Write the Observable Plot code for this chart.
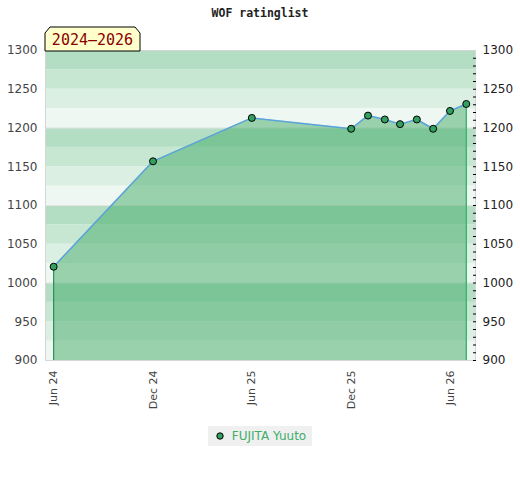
<!DOCTYPE html>
<html>
<head>
<meta charset="utf-8">
<script src="https://cdn.jsdelivr.net/npm/d3@7"></script>
<script src="https://cdn.jsdelivr.net/npm/@observablehq/plot@0.6"></script>
<style>
  body { margin: 0; background: #fff; font-family: "DejaVu Sans", sans-serif; }
  #wrap { position: relative; width: 520px; }
  #title { position: absolute; left: 0; top: 6px; width: 520px; text-align: center;
    font-family: "DejaVu Sans Mono", monospace; font-weight: bold; font-size: 11.5px; color: #222; }
  #badge { position: absolute; left: 44px; top: 26px; }
  #legend { display: flex; justify-content: center; margin-top: 16px; }
  #legend .box { background: #f0f0f0; padding: 3px 6px 3px 8px; display: flex; align-items: center;
    font-size: 12px; color: #3cae6a; height: 14px; }
  #legend svg { margin-right: 8px; }
</style>
</head>
<body>
<div id="wrap">
  <div id="chart"></div>
  <div id="title">WOF ratinglist</div>
  <svg id="badge" width="98" height="26">
    <polygon points="1,7 6,1 91,1 96,7 96,25 1,25" fill="#ffffcc" stroke="#000" stroke-width="1"/>
    <text x="48.5" y="19" text-anchor="middle" font-family="DejaVu Sans Mono, monospace" font-size="15" fill="#8b0000">2024–2026</text>
  </svg>
  <div id="legend"><div class="box"><svg width="8" height="8"><circle cx="4" cy="4" r="3.2" fill="#33a060" stroke="#000" stroke-width="1"/></svg>FUJITA Yuuto</div></div>
</div>
<script>
const playerName = "FUJITA Yuuto";
const dates = ["2024-06-01","2024-12-01","2025-06-01","2025-12-01","2026-01-01","2026-02-01","2026-03-01","2026-04-01","2026-05-01","2026-06-01","2026-07-01"];
const ratings = [1021, 1157, 1213, 1199, 1216, 1211, 1205, 1211, 1199, 1222, 1231];
const xTickDates = ["2024-06-01","2024-12-01","2025-06-01","2025-12-01","2026-06-01"];
const yTicks = [900, 950, 1000, 1050, 1100, 1150, 1200, 1250, 1300];
const yMinorTicks = d3.range(900, 1300, 10);
const bandEdges = d3.range(900, 1300, 25);
const bandColors = ["#eef7f1", "#dcefe3", "#c8e7d3", "#b3dec3"]; // low to high within each 100
const gridLines = [1000, 1100, 1200];

const data = dates.map((d, i) => ({date: new Date(d), rating: ratings[i]}));
const bands = bandEdges.map(b => ({y1: b, y2: b + 25, c: bandColors[(((b % 100) + 100) % 100) / 25]}));

const xDomain = [new Date("2024-05-17"), new Date("2026-07-18")];
const first = data[0], last = data[data.length - 1];

const plot = Plot.plot({
  width: 520,
  height: 410,
  marginTop: 50,
  marginBottom: 50,
  marginLeft: 45,
  marginRight: 45,
  style: {fontFamily: "DejaVu Sans, sans-serif", fontSize: "11px", color: "#444", background: "transparent"},
  x: {type: "utc", domain: xDomain},
  y: {domain: [900, 1300]},
  marks: [
    Plot.rect(bands, {x1: xDomain[0], x2: xDomain[1], y1: "y1", y2: "y2", fill: "c"}),
    Plot.ruleY(gridLines, {stroke: "#e4e4e4", strokeWidth: 1}),
    Plot.areaY(data, {x: "date", y1: 900, y2: "rating", fill: "#43ac6a", fillOpacity: 0.5}),
    Plot.ruleX([first], {x: "date", y1: 900, y2: "rating", stroke: "#2e8b57", strokeWidth: 1.2}),
    Plot.ruleX([last], {x: "date", y1: 900, y2: "rating", stroke: "#3cb371", strokeWidth: 1.5}),
    Plot.line(data, {x: "date", y: "rating", stroke: "#5ba3dc", strokeWidth: 1.5}),
    Plot.dot(data, {x: "date", y: "rating", r: 3.5, fill: "#33a060", stroke: "#000", strokeWidth: 1}),
    Plot.frame({stroke: "#d6d6d6"}),
    Plot.axisY({anchor: "left", ticks: yTicks, tickFormat: "d", tickSize: 0, tickPadding: 8, label: null, fontSize: 12}),
    Plot.axisY({anchor: "right", ticks: yTicks, tickFormat: "d", tickSize: 0, tickPadding: 7, label: null, fontSize: 12, fill: "#222"}),
    Plot.axisY({anchor: "right", ticks: yMinorTicks, tickSize: 3, dx: -3, tickFormat: () => "", label: null, stroke: "#000"}),
    Plot.axisX({ticks: xTickDates.map(d => new Date(d)), tickFormat: d3.utcFormat("%b %y"), tickRotate: -90, tickSize: 0, tickPadding: 10, label: null, fontSize: 11})
  ]
});
document.getElementById("chart").appendChild(plot);
</script>
</body>
</html>
